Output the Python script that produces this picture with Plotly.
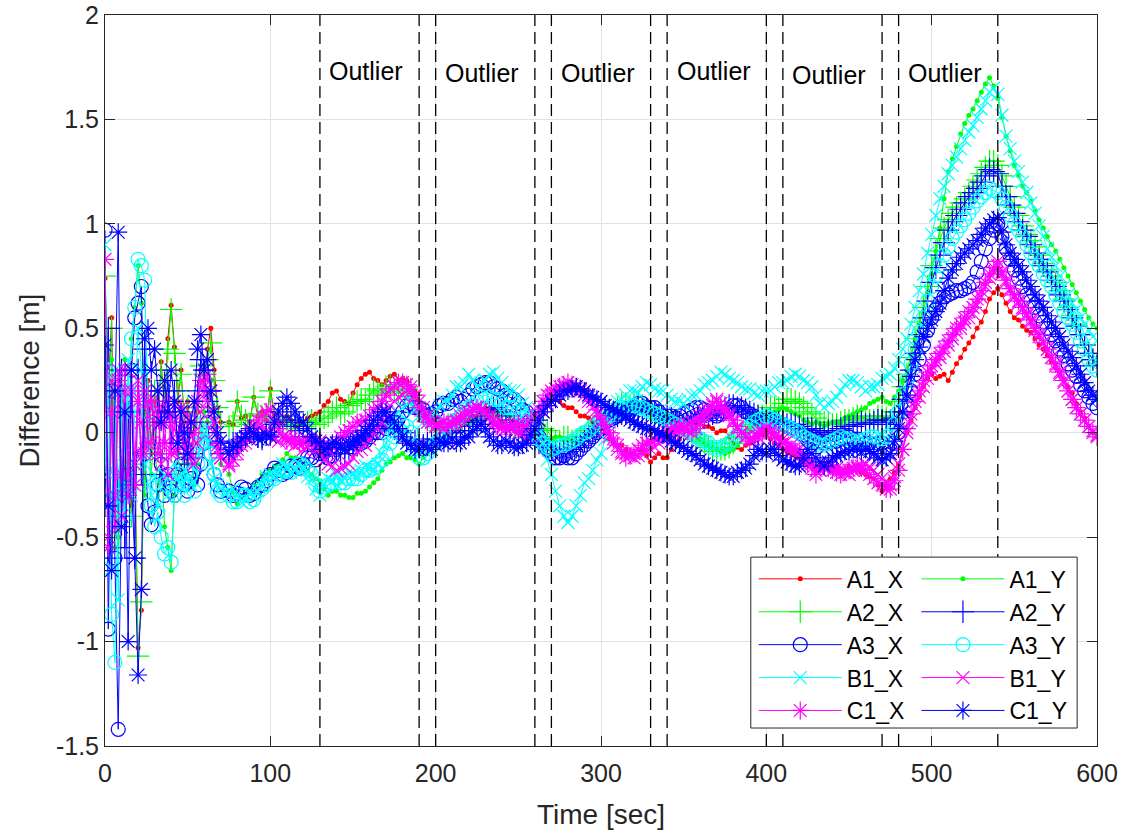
import plotly.graph_objects as go

# ---------------- data ----------------
T_EARLY = [0, 2, 4, 6, 8, 10, 12, 14, 16, 18,
           20, 22, 24, 26, 28, 30, 32, 34, 36, 38,
           40, 42, 44, 46, 48, 50, 52, 54, 56, 58,
           60, 62, 64, 66, 68, 70]
T_MAIN = [75, 80, 85, 90, 95, 100, 105, 110, 115, 120,
          125, 130, 135, 140, 145, 150, 155, 160, 165, 170,
          175, 180, 185, 190, 195, 200, 205, 210, 215, 220,
          225, 230, 235, 240, 245, 250, 255, 260, 265, 270,
          275, 280, 285, 290, 295, 300, 305, 310, 315, 320,
          325, 330, 335, 340, 345, 350, 355, 360, 365, 370,
          375, 380, 385, 390, 395, 400, 405, 410, 415, 420,
          425, 430, 435, 440, 445, 450, 455, 460, 465, 470,
          475, 480, 485, 490, 495, 500, 505, 510, 515, 520,
          525, 530, 535, 540, 545, 550, 555, 560, 565, 570,
          575, 580, 585, 590, 595, 600]
T_MID = [77.5, 82.5, 87.5, 92.5, 97.5, 102.5, 107.5, 112.5, 117.5, 122.5,
         127.5, 132.5, 137.5, 142.5, 147.5, 152.5, 157.5, 162.5, 167.5, 172.5,
         177.5, 182.5, 187.5, 192.5, 197.5, 202.5, 207.5, 212.5, 217.5, 222.5,
         227.5, 232.5, 237.5, 242.5, 247.5, 252.5, 257.5, 262.5, 267.5, 272.5,
         277.5, 282.5, 287.5, 292.5, 297.5, 302.5, 307.5, 312.5, 317.5, 322.5,
         327.5, 332.5, 337.5, 342.5, 347.5, 352.5, 357.5, 362.5, 367.5, 372.5,
         377.5, 382.5, 387.5, 392.5, 397.5, 402.5, 407.5, 412.5, 417.5, 422.5,
         427.5, 432.5, 437.5, 442.5, 447.5, 452.5, 457.5, 462.5, 467.5, 472.5,
         477.5, 482.5, 487.5, 492.5, 497.5, 502.5, 507.5, 512.5, 517.5, 522.5,
         527.5, 532.5, 537.5, 542.5, 547.5, 552.5, 557.5, 562.5, 567.5, 572.5,
         577.5, 582.5, 587.5, 592.5, 597.5]
TIME = T_EARLY + T_MAIN

A1_X = [0.74, 0.20, 0.55, -0.35, -0.50, 0.15, -0.20, 0.10, -0.35, -0.10,
        -1.03, -0.85, 0.10, 0.25, -0.10, 0.15, 0.05, 0.34, 0.10, 0.45,
        0.61, 0.41, 0.15, 0.30, 0.05, 0.15, 0.00, -0.05, 0.10, 0.30,
        0.25, 0.40, 0.50, 0.30, 0.12, 0.05,
        0.05, 0.15, 0.08, 0.17, 0.10, 0.21, 0.05, 0.08, 0.03, 0.05,
        0.08, 0.10, 0.15, 0.20, 0.15, 0.19, 0.26, 0.29, 0.25, 0.25,
        0.28, 0.26, 0.22, 0.15, 0.08, 0.05, 0.03, 0.05, 0.08, 0.06,
        0.08, 0.12, 0.10, 0.05, 0.02, 0.00, 0.02, 0.05, 0.10, 0.15,
        0.15, 0.12, 0.10, 0.08, 0.05, 0.02, -0.03, -0.06, -0.08, -0.10,
        -0.08, -0.14, -0.10, -0.12, -0.05, 0.00, 0.02, 0.05, 0.03, 0.00,
        0.01, -0.05, -0.08, -0.05, -0.02, 0.00, -0.05, -0.08, -0.10, -0.12,
        -0.15, -0.18, -0.15, -0.17, -0.18, -0.16, -0.18, -0.20, -0.22, -0.28,
        -0.22, -0.15, 0.00, 0.12, 0.22, 0.28, 0.27, 0.25, 0.33, 0.40,
        0.46, 0.53, 0.64, 0.69, 0.62, 0.55, 0.51, 0.48, 0.42, 0.37,
        0.31, 0.25, 0.19, 0.10, 0.03, -0.02]
A1_X_MID = [0.04, 0.07, 0.05, 0.08, 0.06, 0.09, 0.04, 0.06, 0.04, 0.07,
            0.09, 0.13, 0.19, 0.16, 0.14, 0.23, 0.28, 0.26, 0.23, 0.27,
            0.25, 0.25, 0.20, 0.11, 0.07, 0.05, 0.02, 0.07, 0.06, 0.08,
            0.11, 0.10, 0.08, 0.03, 0.02, 0.00, 0.04, 0.07, 0.13, 0.16,
            0.13, 0.12, 0.08, 0.07, 0.03, 0.00, -0.05, -0.06, -0.10, -0.08,
            -0.11, -0.12, -0.12, -0.08, -0.03, 0.01, 0.04, 0.03, 0.02, 0.01,
            -0.02, -0.07, -0.06, -0.04, -0.01, -0.03, -0.06, -0.09, -0.11, -0.14,
            -0.16, -0.16, -0.17, -0.16, -0.18, -0.17, -0.19, -0.21, -0.25, -0.26,
            -0.19, -0.08, 0.06, 0.17, 0.26, 0.26, 0.28, 0.29, 0.36, 0.43,
            0.50, 0.58, 0.67, 0.66, 0.58, 0.54, 0.49, 0.45, 0.40, 0.34,
            0.28, 0.22, 0.14, 0.07, 0.00]

A1_Y = [0.50, -0.30, 0.35, -0.55, 0.20, -0.30, 0.35, -0.20, 0.45, 0.60,
        0.80, 0.62, -0.30, 0.10, -0.20, 0.05, -0.35, -0.10, -0.45, -0.55,
        -0.66, -0.30, -0.10, -0.20, -0.05, -0.15, -0.10, -0.25, -0.15, 0.00,
        0.10, 0.05, 0.25, 0.10, -0.05, -0.15,
        -0.20, -0.34, -0.30, -0.25, -0.20, -0.18, -0.15, -0.10, -0.12, -0.15,
        -0.20, -0.23, -0.30, -0.28, -0.30, -0.31, -0.29, -0.26, -0.22, -0.15,
        -0.12, -0.10, -0.12, -0.15, -0.10, -0.05, -0.02, 0.00, 0.02, 0.05,
        0.08, 0.10, 0.12, 0.10, 0.08, 0.05, 0.03, 0.00, -0.02, -0.03,
        -0.02, -0.03, -0.05, -0.03, 0.00, 0.05, 0.08, 0.10, 0.12, 0.13,
        0.12, 0.12, 0.10, 0.08, 0.05, 0.03, 0.00, -0.03, -0.06, -0.08,
        -0.10, -0.08, -0.03, 0.02, 0.05, 0.08, 0.10, 0.12, 0.10, 0.08,
        0.05, 0.05, 0.03, 0.05, 0.05, 0.08, 0.10, 0.12, 0.15, 0.17,
        0.14, 0.20, 0.30, 0.45, 0.58, 0.76, 0.98, 1.25, 1.37, 1.48,
        1.55, 1.63, 1.70, 1.60, 1.42, 1.28, 1.18, 1.11, 1.02, 0.94,
        0.87, 0.79, 0.71, 0.63, 0.55, 0.50]
A1_Y_MID = [-0.28, -0.31, -0.27, -0.23, -0.20, -0.16, -0.13, -0.12, -0.13, -0.18,
            -0.22, -0.27, -0.28, -0.30, -0.31, -0.29, -0.28, -0.24, -0.18, -0.14,
            -0.11, -0.12, -0.13, -0.12, -0.08, -0.04, -0.01, 0.01, 0.04, 0.06,
            0.09, 0.12, 0.11, 0.09, 0.06, 0.04, 0.01, -0.01, -0.03, -0.02,
            -0.03, -0.04, -0.04, -0.01, 0.03, 0.06, 0.09, 0.11, 0.13, 0.12,
            0.13, 0.11, 0.09, 0.07, 0.04, 0.01, -0.01, -0.05, -0.07, -0.09,
            -0.09, -0.06, 0.00, 0.04, 0.07, 0.09, 0.11, 0.11, 0.09, 0.06,
            0.04, 0.04, 0.04, 0.05, 0.07, 0.09, 0.11, 0.14, 0.16, 0.15,
            0.17, 0.25, 0.37, 0.52, 0.67, 0.87, 1.12, 1.31, 1.43, 1.52,
            1.59, 1.67, 1.66, 1.51, 1.35, 1.23, 1.15, 1.06, 0.98, 0.90,
            0.83, 0.75, 0.67, 0.59, 0.52]

A2_X = [0.75, 0.15, 0.50, -0.40, -0.55, 0.10, -0.25, 0.05, -0.40, -0.15,
        -1.07, -0.81, 0.05, 0.20, -0.05, 0.20, 0.10, 0.30, 0.15, 0.40,
        0.59, 0.38, 0.20, 0.28, 0.08, 0.12, 0.05, 0.00, 0.12, 0.32,
        0.28, 0.35, 0.43, 0.25, 0.12, 0.05,
        0.03, 0.15, 0.06, 0.17, 0.08, 0.20, 0.04, 0.06, 0.02, 0.03,
        0.06, 0.05, 0.08, 0.12, 0.10, 0.14, 0.16, 0.18, 0.20, 0.22,
        0.20, 0.22, 0.18, 0.12, 0.06, 0.03, 0.02, 0.04, 0.06, 0.05,
        0.06, 0.08, 0.10, 0.06, 0.03, 0.02, 0.03, 0.04, 0.02, -0.02,
        -0.04, -0.02, -0.04, -0.02, 0.02, 0.06, 0.10, 0.12, 0.14, 0.15,
        0.13, 0.10, 0.08, 0.06, 0.04, 0.02, -0.01, -0.04, -0.07, -0.09,
        -0.08, -0.05, 0.00, 0.04, 0.08, 0.10, 0.12, 0.14, 0.16, 0.14,
        0.10, 0.07, 0.05, 0.04, 0.05, 0.06, 0.08, 0.07, 0.06, 0.08,
        0.06, 0.15, 0.28, 0.45, 0.60, 0.80, 0.93, 1.02, 1.08, 1.12,
        1.18, 1.24, 1.30, 1.28, 1.18, 1.08, 0.99, 0.92, 0.85, 0.78,
        0.72, 0.64, 0.56, 0.47, 0.38, 0.33]
A2_X_MID = [0.05, 0.08, 0.04, 0.09, 0.05, 0.07, 0.03, 0.05, 0.04, 0.05,
            0.04, 0.07, 0.10, 0.09, 0.13, 0.15, 0.15, 0.21, 0.19, 0.23,
            0.19, 0.21, 0.14, 0.09, 0.05, 0.01, 0.04, 0.03, 0.07, 0.04,
            0.08, 0.07, 0.09, 0.04, 0.03, 0.01, 0.05, 0.02, 0.01, -0.04,
            -0.02, -0.04, -0.02, 0.01, 0.03, 0.09, 0.10, 0.14, 0.13, 0.15,
            0.11, 0.10, 0.06, 0.06, 0.02, 0.01, -0.03, -0.05, -0.09, -0.08,
            -0.07, -0.02, 0.01, 0.07, 0.08, 0.12, 0.12, 0.16, 0.15, 0.12,
            0.09, 0.05, 0.05, 0.04, 0.06, 0.07, 0.08, 0.06, 0.08, 0.07,
            0.10, 0.22, 0.36, 0.53, 0.70, 0.87, 0.98, 1.05, 1.10, 1.15,
            1.21, 1.27, 1.30, 1.23, 1.13, 1.04, 0.95, 0.89, 0.81, 0.75,
            0.68, 0.60, 0.52, 0.42, 0.35]

A2_Y = [-0.35, 0.50, -0.60, 0.20, -0.40, 0.30, -0.55, 0.10, -0.25, -0.60,
        0.30, -0.20, 0.40, 0.05, 0.20, -0.10, 0.15, -0.20, 0.10, 0.25,
        -0.05, 0.20, -0.10, 0.05, -0.15, 0.00, -0.10, 0.05, 0.20, 0.35,
        0.30, 0.15, 0.20, 0.05, -0.05, -0.10,
        -0.08, -0.05, -0.02, 0.00, -0.03, 0.00, 0.05, 0.08, 0.03, -0.02,
        -0.05, -0.08, -0.10, -0.08, -0.10, -0.07, -0.04, 0.00, 0.04, 0.05,
        0.02, 0.00, -0.04, -0.06, -0.05, -0.03, -0.02, 0.00, 0.03, 0.05,
        0.08, 0.10, 0.12, 0.10, 0.06, 0.03, 0.00, -0.03, -0.06, -0.08,
        -0.10, -0.09, -0.07, -0.04, 0.00, 0.03, 0.06, 0.08, 0.10, 0.12,
        0.12, 0.10, 0.09, 0.08, 0.06, 0.04, 0.05, 0.06, 0.08, 0.10,
        0.12, 0.13, 0.12, 0.10, 0.08, 0.06, 0.05, 0.05, 0.04, 0.03,
        0.02, 0.01, 0.00, 0.01, 0.02, 0.03, 0.04, 0.04, 0.05, 0.06,
        0.04, 0.10, 0.22, 0.38, 0.55, 0.72, 0.85, 0.97, 1.04, 1.10,
        1.15, 1.20, 1.26, 1.24, 1.13, 1.05, 0.97, 0.90, 0.83, 0.77,
        0.70, 0.63, 0.55, 0.47, 0.38, 0.32]
A2_Y_MID = [-0.05, -0.04, 0.00, -0.02, -0.01, 0.04, 0.06, 0.05, 0.01, -0.04,
            -0.06, -0.10, -0.08, -0.10, -0.08, -0.06, -0.01, 0.02, 0.06, 0.03,
            0.01, -0.03, -0.04, -0.06, -0.03, -0.03, 0.00, 0.01, 0.05, 0.06,
            0.10, 0.11, 0.11, 0.08, 0.05, 0.01, -0.01, -0.05, -0.07, -0.10,
            -0.09, -0.08, -0.06, -0.02, 0.02, 0.04, 0.07, 0.09, 0.11, 0.11,
            0.11, 0.10, 0.08, 0.07, 0.05, 0.05, 0.05, 0.07, 0.09, 0.11,
            0.13, 0.12, 0.11, 0.09, 0.07, 0.06, 0.05, 0.04, 0.04, 0.02,
            0.02, 0.00, 0.01, 0.01, 0.03, 0.03, 0.05, 0.04, 0.06, 0.05,
            0.07, 0.16, 0.30, 0.47, 0.63, 0.79, 0.91, 1.01, 1.07, 1.13,
            1.17, 1.23, 1.25, 1.18, 1.09, 1.01, 0.94, 0.86, 0.80, 0.73,
            0.66, 0.59, 0.51, 0.42, 0.35]

A3_X = [0.97, -0.94, 0.20, -0.60, -1.42, -0.30, 0.15, -0.20, 0.30, 0.55,
        0.62, 0.70, -0.10, -0.35, -0.44, -0.38, -0.25, -0.15, -0.30, -0.20,
        -0.28, -0.30, -0.20, -0.15, -0.25, -0.28, -0.22, -0.18, -0.25, -0.15,
        -0.05, 0.05, -0.10, -0.20, -0.25, -0.28,
        -0.28, -0.29, -0.27, -0.29, -0.25, -0.20, -0.18, -0.19, -0.16, -0.15,
        -0.12, -0.10, -0.12, -0.08, -0.05, -0.03, -0.05, -0.02, 0.00, 0.02,
        0.05, 0.10, 0.14, 0.12, 0.08, 0.10, 0.14, 0.16, 0.15, 0.18,
        0.22, 0.24, 0.22, 0.20, 0.17, 0.14, 0.10, 0.02, -0.05, -0.10,
        -0.12, -0.12, -0.10, -0.06, -0.02, 0.02, 0.06, 0.08, 0.10, 0.12,
        0.14, 0.12, 0.10, 0.08, 0.07, 0.09, 0.11, 0.12, 0.10, 0.08,
        0.10, 0.13, 0.12, 0.09, 0.06, 0.05, 0.06, 0.04, 0.02, 0.00,
        -0.02, -0.03, -0.05, -0.04, -0.03, -0.02, -0.03, -0.05, -0.06, -0.05,
        -0.08, 0.00, 0.12, 0.28, 0.42, 0.55, 0.62, 0.66, 0.68, 0.69,
        0.72, 0.82, 0.93, 1.00, 0.88, 0.78, 0.70, 0.63, 0.56, 0.50,
        0.44, 0.37, 0.30, 0.23, 0.17, 0.12]
A3_X_MID = [-0.30, -0.26, -0.30, -0.26, -0.23, -0.17, -0.20, -0.16, -0.17, -0.12,
            -0.13, -0.09, -0.11, -0.05, -0.05, -0.02, -0.04, 0.00, 0.00, 0.04,
            0.07, 0.13, 0.12, 0.11, 0.09, 0.13, 0.14, 0.17, 0.16, 0.21,
            0.23, 0.24, 0.21, 0.18, 0.16, 0.11, 0.07, -0.02, -0.08, -0.12,
            -0.11, -0.12, -0.08, -0.04, 0.00, 0.05, 0.07, 0.10, 0.10, 0.14,
            0.12, 0.12, 0.08, 0.08, 0.08, 0.10, 0.12, 0.11, 0.09, 0.09,
            0.11, 0.13, 0.10, 0.08, 0.05, 0.06, 0.05, 0.03, 0.01, -0.01,
            -0.03, -0.04, -0.04, -0.04, -0.02, -0.03, -0.04, -0.05, -0.05, -0.07,
            -0.05, 0.06, 0.20, 0.35, 0.49, 0.59, 0.65, 0.67, 0.68, 0.70,
            0.77, 0.88, 0.97, 0.94, 0.83, 0.74, 0.66, 0.60, 0.53, 0.47,
            0.40, 0.33, 0.27, 0.20, 0.14]

A3_Y = [-0.18, 0.30, -0.87, -1.10, -0.30, 0.10, -0.40, 0.20, 0.45, 0.60,
        0.83, 0.80, 0.73, 0.10, -0.35, -0.45, -0.38, -0.50, -0.58, -0.55,
        -0.62, -0.30, -0.25, -0.20, -0.30, -0.25, -0.20, -0.28, -0.15, -0.05,
        0.05, 0.00, -0.10, -0.20, -0.28, -0.30,
        -0.30, -0.33, -0.30, -0.32, -0.27, -0.22, -0.20, -0.18, -0.17, -0.16,
        -0.20, -0.28, -0.25, -0.22, -0.24, -0.22, -0.20, -0.18, -0.15, -0.10,
        -0.02, 0.04, 0.00, -0.12, -0.10, -0.05, 0.00, 0.05, 0.08, 0.12,
        0.15, 0.18, 0.16, 0.14, 0.12, 0.10, 0.06, 0.00, -0.05, -0.08,
        -0.06, -0.05, -0.03, 0.00, 0.03, 0.06, 0.08, 0.10, 0.12, 0.13,
        0.12, 0.10, 0.08, 0.06, 0.04, 0.02, 0.00, -0.03, -0.05, -0.08,
        -0.06, -0.03, 0.00, 0.03, 0.06, 0.08, 0.06, 0.04, 0.02, 0.00,
        -0.03, -0.05, -0.06, -0.04, -0.02, -0.03, -0.05, -0.03, -0.02, -0.03,
        -0.01, 0.10, 0.25, 0.40, 0.55, 0.70, 0.80, 0.89, 0.96, 1.02,
        1.08, 1.13, 1.17, 1.15, 1.08, 1.00, 0.94, 0.86, 0.80, 0.73,
        0.66, 0.58, 0.52, 0.44, 0.35, 0.30]
A3_Y_MID = [-0.33, -0.30, -0.33, -0.28, -0.25, -0.22, -0.18, -0.19, -0.15, -0.18,
            -0.25, -0.26, -0.24, -0.24, -0.22, -0.22, -0.18, -0.17, -0.13, -0.05,
            0.02, 0.03, -0.07, -0.12, -0.07, -0.03, 0.03, 0.06, 0.11, 0.13,
            0.17, 0.17, 0.16, 0.12, 0.12, 0.07, 0.03, -0.03, -0.07, -0.07,
            -0.06, -0.04, -0.01, 0.01, 0.05, 0.07, 0.10, 0.11, 0.13, 0.12,
            0.11, 0.09, 0.07, 0.05, 0.03, 0.01, -0.02, -0.04, -0.07, -0.07,
            -0.05, -0.01, 0.02, 0.05, 0.07, 0.07, 0.05, 0.03, 0.01, -0.02,
            -0.04, -0.06, -0.05, -0.03, -0.03, -0.04, -0.04, -0.02, -0.03, -0.02,
            0.04, 0.17, 0.33, 0.48, 0.63, 0.75, 0.85, 0.93, 0.99, 1.05,
            1.11, 1.15, 1.16, 1.12, 1.04, 0.97, 0.90, 0.83, 0.76, 0.70,
            0.62, 0.55, 0.48, 0.40, 0.32]

B1_X = [0.90, -0.20, -0.65, 0.30, -0.80, 0.20, -0.10, 0.35, -0.30, 0.10,
        0.50, 0.30, -0.15, -0.25, -0.30, -0.20, -0.35, -0.25, -0.20, -0.30,
        -0.25, -0.15, -0.22, -0.25, -0.18, -0.22, -0.25, -0.15, -0.10, -0.05,
        0.00, -0.05, -0.15, -0.22, -0.25, -0.27,
        -0.28, -0.30, -0.32, -0.30, -0.25, -0.20, -0.18, -0.16, -0.18, -0.17,
        -0.22, -0.30, -0.22, -0.20, -0.22, -0.20, -0.18, -0.17, -0.15, -0.05,
        0.06, 0.12, 0.15, 0.08, 0.05, 0.10, 0.15, 0.18, 0.22, 0.28,
        0.22, 0.25, 0.29, 0.24, 0.20, 0.18, 0.12, 0.05, -0.05, -0.20,
        -0.35, -0.43, -0.35, -0.24, -0.18, -0.10, 0.05, 0.15, 0.18, 0.20,
        0.22, 0.23, 0.20, 0.18, 0.15, 0.14, 0.18, 0.20, 0.24, 0.27,
        0.28, 0.25, 0.22, 0.21, 0.18, 0.20, 0.22, 0.24, 0.27, 0.27,
        0.24, 0.18, 0.12, 0.15, 0.20, 0.25, 0.24, 0.20, 0.22, 0.26,
        0.28, 0.35, 0.45, 0.60, 0.76, 0.95, 1.12, 1.24, 1.32, 1.40,
        1.47, 1.55, 1.63, 1.62, 1.42, 1.30, 1.20, 1.10, 0.99, 0.88,
        0.80, 0.70, 0.62, 0.55, 0.49, 0.44]
B1_X_MID = [-0.27, -0.33, -0.29, -0.28, -0.21, -0.21, -0.15, -0.19, -0.15, -0.21,
            -0.27, -0.25, -0.23, -0.23, -0.19, -0.21, -0.16, -0.18, -0.10, 0.02,
            0.10, 0.16, 0.11, 0.05, 0.08, 0.13, 0.15, 0.22, 0.24, 0.25,
            0.24, 0.28, 0.26, 0.21, 0.20, 0.14, 0.09, 0.00, -0.13, -0.28,
            -0.40, -0.40, -0.30, -0.22, -0.13, -0.03, 0.11, 0.16, 0.20, 0.19,
            0.24, 0.21, 0.20, 0.16, 0.15, 0.16, 0.18, 0.23, 0.25, 0.29,
            0.26, 0.24, 0.21, 0.19, 0.20, 0.20, 0.24, 0.25, 0.28, 0.25,
            0.22, 0.14, 0.14, 0.17, 0.23, 0.25, 0.22, 0.22, 0.23, 0.27,
            0.31, 0.40, 0.52, 0.68, 0.86, 1.04, 1.18, 1.28, 1.36, 1.44,
            1.51, 1.59, 1.65, 1.52, 1.36, 1.25, 1.15, 1.05, 0.94, 0.84,
            0.75, 0.66, 0.59, 0.52, 0.46]

B1_Y = [0.30, -0.50, 0.25, -0.30, 0.30, -0.40, 0.20, -0.20, 0.30, -0.15,
        0.25, 0.05, -0.10, 0.15, -0.05, 0.10, 0.20, -0.15, 0.05, -0.20,
        0.10, -0.10, 0.00, 0.10, -0.05, -0.10, 0.05, -0.15, -0.05, 0.10,
        0.20, 0.15, 0.10, 0.00, -0.08, -0.12,
        -0.15, -0.10, -0.05, 0.00, 0.03, 0.00, -0.04, -0.02, -0.06, -0.08,
        -0.05, -0.10, -0.15, -0.18, -0.16, -0.12, -0.08, -0.03, 0.02, 0.10,
        0.15, 0.18, 0.20, 0.15, 0.08, 0.03, 0.02, 0.05, 0.08, 0.10,
        0.12, 0.10, 0.06, 0.03, 0.02, 0.00, -0.02, 0.02, 0.10, 0.18,
        0.20, 0.22, 0.21, 0.18, 0.12, 0.05, -0.02, -0.08, -0.10, -0.12,
        -0.10, -0.08, -0.05, -0.02, 0.00, 0.02, 0.05, 0.08, 0.12, 0.16,
        0.12, 0.05, 0.00, -0.03, 0.00, 0.02, 0.00, -0.03, -0.06, -0.08,
        -0.12, -0.18, -0.17, -0.15, -0.18, -0.20, -0.17, -0.15, -0.18, -0.22,
        -0.25, -0.15, 0.00, 0.12, 0.22, 0.30, 0.36, 0.42, 0.48, 0.53,
        0.57, 0.65, 0.74, 0.80, 0.72, 0.65, 0.59, 0.53, 0.46, 0.40,
        0.32, 0.24, 0.16, 0.09, 0.03, -0.01]
B1_Y_MID = [-0.13, -0.06, -0.03, 0.03, 0.00, -0.03, -0.02, -0.05, -0.05, -0.07,
            -0.08, -0.13, -0.16, -0.17, -0.15, -0.09, -0.06, 0.00, 0.05, 0.13,
            0.17, 0.20, 0.17, 0.12, 0.05, 0.03, 0.04, 0.06, 0.10, 0.11,
            0.11, 0.08, 0.05, 0.02, 0.01, -0.01, 0.00, 0.06, 0.14, 0.19,
            0.22, 0.21, 0.20, 0.15, 0.09, 0.01, -0.05, -0.10, -0.11, -0.11,
            -0.09, -0.07, -0.03, -0.01, 0.01, 0.04, 0.06, 0.10, 0.14, 0.14,
            0.09, 0.02, -0.02, -0.01, 0.01, 0.01, -0.02, -0.04, -0.07, -0.10,
            -0.15, -0.18, -0.16, -0.17, -0.19, -0.18, -0.16, -0.17, -0.20, -0.24,
            -0.21, -0.08, 0.06, 0.17, 0.26, 0.33, 0.39, 0.45, 0.50, 0.55,
            0.61, 0.70, 0.77, 0.76, 0.68, 0.62, 0.56, 0.49, 0.43, 0.36,
            0.28, 0.20, 0.12, 0.06, 0.01]

C1_X = [0.83, -0.55, 0.10, -0.45, 0.25, -0.20, 0.30, -0.30, 0.20, -0.25,
        0.15, -0.10, 0.20, -0.05, 0.15, 0.05, -0.10, 0.10, -0.05, 0.15,
        -0.10, 0.05, -0.08, 0.12, -0.05, 0.08, -0.12, 0.00, 0.15, 0.25,
        0.22, 0.28, 0.20, 0.05, -0.06, -0.12,
        -0.16, -0.08, -0.02, 0.03, 0.08, 0.11, 0.02, -0.04, -0.03, -0.05,
        -0.04, -0.04, -0.08, -0.05, 0.00, 0.03, 0.05, 0.08, 0.12, 0.18,
        0.22, 0.24, 0.22, 0.12, 0.05, 0.03, 0.05, 0.04, 0.06, 0.10,
        0.12, 0.10, 0.04, 0.02, 0.03, 0.04, 0.03, 0.08, 0.15, 0.20,
        0.22, 0.24, 0.22, 0.20, 0.15, 0.08, 0.00, -0.06, -0.12, -0.10,
        -0.06, -0.04, -0.02, 0.00, 0.02, 0.03, 0.00, 0.05, 0.10, 0.15,
        0.10, 0.06, 0.00, -0.04, -0.02, 0.02, -0.02, -0.05, -0.08, -0.10,
        -0.15, -0.20, -0.16, -0.18, -0.20, -0.18, -0.16, -0.18, -0.22, -0.25,
        -0.27, -0.18, 0.02, 0.15, 0.25, 0.32, 0.38, 0.44, 0.50, 0.55,
        0.60, 0.68, 0.76, 0.82, 0.73, 0.66, 0.60, 0.54, 0.47, 0.40,
        0.33, 0.25, 0.16, 0.09, 0.03, -0.02]
C1_X_MID = [-0.13, -0.04, 0.01, 0.06, 0.10, 0.06, -0.02, -0.03, -0.05, -0.03,
            -0.06, -0.06, -0.07, -0.02, 0.01, 0.05, 0.06, 0.11, 0.15, 0.21,
            0.24, 0.23, 0.18, 0.08, 0.05, 0.04, 0.04, 0.05, 0.08, 0.11,
            0.11, 0.07, 0.03, 0.02, 0.04, 0.03, 0.06, 0.11, 0.18, 0.21,
            0.23, 0.23, 0.21, 0.17, 0.11, 0.04, -0.03, -0.09, -0.11, -0.08,
            -0.05, -0.03, -0.01, 0.01, 0.03, 0.01, 0.02, 0.08, 0.13, 0.12,
            0.08, 0.03, -0.02, -0.03, 0.00, 0.00, -0.03, -0.07, -0.09, -0.13,
            -0.17, -0.18, -0.17, -0.19, -0.19, -0.17, -0.17, -0.20, -0.24, -0.27,
            -0.23, -0.08, 0.09, 0.20, 0.29, 0.35, 0.41, 0.47, 0.52, 0.58,
            0.64, 0.72, 0.79, 0.77, 0.69, 0.63, 0.57, 0.50, 0.43, 0.36,
            0.29, 0.20, 0.12, 0.06, 0.00]

C1_Y = [0.42, -0.35, -0.66, 0.20, 0.96, -0.45, 0.10, -1.00, 0.30, -0.60,
        -1.16, -0.75, 0.45, 0.50, 0.30, 0.40, 0.20, 0.05, 0.25, 0.10,
        0.30, 0.15, -0.05, 0.10, 0.00, -0.10, 0.05, 0.15, 0.40, 0.47,
        0.30, 0.35, 0.20, 0.10, 0.00, -0.04,
        -0.10, -0.06, -0.02, 0.00, -0.03, -0.02, 0.10, 0.17, 0.10, 0.05,
        -0.02, -0.05, -0.07, -0.05, -0.08, -0.06, -0.02, 0.03, 0.08, 0.10,
        0.05, -0.02, -0.06, -0.08, -0.07, -0.06, -0.05, -0.03, -0.05, -0.02,
        0.03, 0.02, -0.04, -0.06, -0.05, -0.07, -0.05, 0.02, 0.10, 0.15,
        0.18, 0.20, 0.22, 0.20, 0.17, 0.15, 0.12, 0.10, 0.08, 0.05,
        0.03, 0.02, 0.00, -0.02, -0.05, -0.07, -0.10, -0.13, -0.16, -0.18,
        -0.20, -0.21, -0.18, -0.15, -0.08, -0.10, -0.08, -0.13, -0.15, -0.16,
        -0.08, -0.12, -0.16, -0.12, -0.10, -0.09, -0.08, -0.08, -0.10, -0.13,
        -0.10, 0.02, 0.18, 0.35, 0.46, 0.54, 0.62, 0.74, 0.81, 0.86,
        0.90, 0.95, 1.00, 1.03, 0.90, 0.83, 0.77, 0.70, 0.63, 0.56,
        0.50, 0.42, 0.36, 0.28, 0.20, 0.16]
C1_Y_MID = [-0.07, -0.03, 0.02, -0.03, -0.01, 0.05, 0.14, 0.14, 0.06, 0.02,
            -0.04, -0.08, -0.05, -0.07, -0.06, -0.03, 0.01, 0.06, 0.10, 0.08,
            0.02, -0.05, -0.08, -0.06, -0.08, -0.04, -0.05, -0.05, -0.02, 0.01,
            0.04, -0.02, -0.06, -0.04, -0.07, -0.06, -0.01, 0.06, 0.13, 0.16,
            0.20, 0.21, 0.21, 0.18, 0.16, 0.13, 0.11, 0.09, 0.06, 0.04,
            0.02, 0.01, -0.01, -0.04, -0.06, -0.09, -0.11, -0.15, -0.17, -0.19,
            -0.21, -0.19, -0.17, -0.11, -0.09, -0.08, -0.11, -0.14, -0.16, -0.12,
            -0.10, -0.14, -0.14, -0.11, -0.09, -0.08, -0.09, -0.09, -0.12, -0.12,
            -0.04, 0.10, 0.27, 0.41, 0.50, 0.58, 0.68, 0.78, 0.84, 0.88,
            0.92, 0.98, 1.02, 0.96, 0.86, 0.80, 0.73, 0.66, 0.60, 0.53,
            0.46, 0.39, 0.32, 0.24, 0.18]

SERIES_NAMES = ["A1_X", "A1_Y", "A2_X", "A2_Y", "A3_X",
                "A3_Y", "B1_X", "B1_Y", "C1_X", "C1_Y"]
SERIES_VALUES = [A1_X, A1_Y, A2_X, A2_Y, A3_X, A3_Y, B1_X, B1_Y, C1_X, C1_Y]
SERIES_MID = [A1_X_MID, A1_Y_MID, A2_X_MID, A2_Y_MID, A3_X_MID,
              A3_Y_MID, B1_X_MID, B1_Y_MID, C1_X_MID, C1_Y_MID]

OUTLIER_LINES = [130, 190, 200, 260, 270, 330, 340, 400, 410, 470, 480, 540]
OUTLIER_TEXT = ["Outlier", "Outlier", "Outlier", "Outlier", "Outlier", "Outlier"]
OUTLIER_TEXT_X = [134.5, 204.5, 274.5, 344.5, 414.5, 484.5]
OUTLIER_TEXT_Y = [1.73, 1.72, 1.72, 1.73, 1.715, 1.72]

X_TICKS = [0, 100, 200, 300, 400, 500, 600]
Y_TICKS = [-1.5, -1, -0.5, 0, 0.5, 1, 1.5, 2]
Y_TICK_TEXT = ["-1.5", "-1", "-0.5", "0", "0.5", "1", "1.5", "2"]

# ---------------- styles ----------------
COLORS = ["#ff0000", "#00ff00", "#00ff00", "#0000ff", "#0000ff",
          "#00ffff", "#00ffff", "#ff00ff", "#ff00ff", "#0000ff"]
SYMBOLS = ["circle", "circle", "cross-thin-open", "cross-thin-open", "circle-open",
           "circle-open", "x-thin-open", "x-thin-open", "asterisk-open", "asterisk-open"]
SIZES = [5, 5, 16, 16, 14, 14, 13, 13, 15, 15]
LEGENDS = ["legend", "legend2"] * 5

FONT = "Arial, Liberation Sans, Helvetica, sans-serif"
AX = "#262626"

fig = go.Figure()
for name, vals, mid, col, sym, sz, lg in zip(SERIES_NAMES, SERIES_VALUES, SERIES_MID,
                                             COLORS, SYMBOLS, SIZES, LEGENDS):
    pts = sorted(list(zip(TIME, vals)) + list(zip(T_MID, mid)))
    fig.add_trace(go.Scatter(
        x=[p[0] for p in pts], y=[p[1] for p in pts], name=name,
        mode="lines+markers", legend=lg,
        line=dict(color=col, width=1),
        marker=dict(symbol=sym, size=sz, color=col,
                    line=dict(color=col, width=0 if sym == "circle" else 1.2)),
    ))

shapes = []
for xv in OUTLIER_LINES:
    shapes.append(dict(type="line", xref="x", yref="paper", x0=xv, x1=xv,
                       y0=0, y1=1, layer="above",
                       line=dict(color="#000000", width=1.3, dash="12px,6px")))
# legend frame
shapes.append(dict(type="rect", xref="paper", yref="paper",
                   x0=0.651, x1=0.980, y0=0.0246, y1=0.2584, layer="above",
                   fillcolor="#ffffff", line=dict(color=AX, width=1)))

annotations = []
for tx, ty, txt in zip(OUTLIER_TEXT_X, OUTLIER_TEXT_Y, OUTLIER_TEXT):
    annotations.append(dict(x=tx, y=ty, xref="x", yref="y", text=txt,
                            showarrow=False, xanchor="left", yanchor="middle",
                            font=dict(family=FONT, size=25, color="#000000")))

legend_common = dict(
    orientation="v", bgcolor="rgba(0,0,0,0)", borderwidth=0,
    font=dict(family=FONT, size=23, color="#000000"),
    itemwidth=83, tracegroupgap=0, yanchor="top", xanchor="left",
    itemclick=False, itemdoubleclick=False,
)

fig.update_layout(
    width=1122, height=832,
    margin=dict(l=105, r=25, t=15, b=86, autoexpand=False),
    paper_bgcolor="#ffffff", plot_bgcolor="#ffffff",
    font=dict(family=FONT, color=AX),
    shapes=shapes, annotations=annotations,
    legend=dict(x=0.654, y=0.258, **legend_common),
    legend2=dict(x=0.818, y=0.258, **legend_common),
    xaxis=dict(
        range=[0, 600], tickvals=X_TICKS, ticks="inside", ticklen=10,
        tickwidth=1, tickcolor=AX, showline=True, linecolor=AX, linewidth=1,
        mirror="ticks", showgrid=True, gridcolor="#e1e1e1", gridwidth=1,
        zeroline=False, tickfont=dict(family=FONT, size=25, color=AX),
        ticklabelstandoff=5,
        title=dict(text="Time [sec]", font=dict(family=FONT, size=28, color=AX),
                   standoff=18),
    ),
    yaxis=dict(
        range=[-1.5, 2], tickvals=Y_TICKS, ticktext=Y_TICK_TEXT, ticks="inside",
        ticklen=10, tickwidth=1, tickcolor=AX, showline=True, linecolor=AX,
        linewidth=1, mirror="ticks", showgrid=True, gridcolor="#e1e1e1",
        gridwidth=1, zeroline=False,
        tickfont=dict(family=FONT, size=25, color=AX),
        title=dict(text="Difference [m]", font=dict(family=FONT, size=28, color=AX),
                   standoff=8),
    ),
    showlegend=True,
)

fig.write_html("out.html")
